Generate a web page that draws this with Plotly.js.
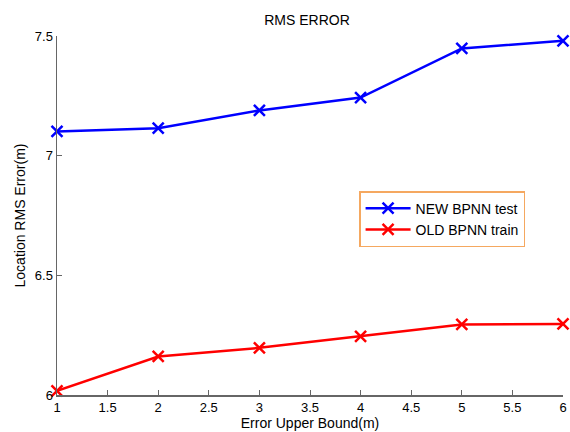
<!DOCTYPE html>
<html>
<head>
<meta charset="utf-8">
<script src="https://cdn.plot.ly/plotly-3.0.1.min.js"></script>
<style>html,body{margin:0;padding:0;background:#fff}#chart{width:570px;height:432px}</style>
</head>
<body>
<div id="chart"></div>
<script>
const errorBound = [1, 2, 3, 4, 5, 6];
const newBpnnTest = [7.101, 7.115, 7.189, 7.243, 7.448, 7.480];
const oldBpnnTrain = [6.017, 6.161, 6.197, 6.245, 6.295, 6.297];
const xTicks = [1, 1.5, 2, 2.5, 3, 3.5, 4, 4.5, 5, 5.5, 6];
const yTicks = [6, 6.5, 7, 7.5];

const font = 'Liberation Sans, Arial, sans-serif';

const traces = [
  {
    x: errorBound, y: newBpnnTest, name: 'NEW BPNN test', type: 'scatter', mode: 'lines+markers',
    line: {color: '#0000ff', width: 2.5},
    marker: {symbol: 'x-thin-open', size: 11, line: {color: '#0000ff', width: 2.5}},
    cliponaxis: false
  },
  {
    x: errorBound, y: oldBpnnTrain, name: 'OLD BPNN train', type: 'scatter', mode: 'lines+markers',
    line: {color: '#ff0000', width: 2.5},
    marker: {symbol: 'x-thin-open', size: 11, line: {color: '#ff0000', width: 2.5}},
    cliponaxis: false
  }
];

const layout = {
  width: 570, height: 432,
  margin: {l: 57, r: 7, t: 36, b: 37},
  paper_bgcolor: '#fff', plot_bgcolor: '#fff',
  font: {family: font, size: 13, color: '#000'},
  title: {text: 'RMS ERROR', x: 0.5386, xanchor: 'center', y: 0.953, yanchor: 'middle', font: {family: font, size: 14, color: '#000'}},
  xaxis: {
    range: [1, 6], tickvals: xTicks, ticktext: xTicks.map(String),
    showgrid: false, zeroline: false, showline: true, linecolor: '#666', linewidth: 1.5,
    ticks: 'inside', ticklen: 5, tickcolor: '#666', tickwidth: 1,
    tickfont: {family: font, size: 13, color: '#000'},
    title: {text: 'Error Upper Bound(m)', standoff: 2, font: {family: font, size: 14, color: '#000'}}
  },
  yaxis: {
    range: [6, 7.5], tickvals: yTicks, ticktext: yTicks.map(String),
    showgrid: false, zeroline: false, showline: true, linecolor: '#666', linewidth: 1.5,
    ticks: 'inside', ticklen: 5, tickcolor: '#666', tickwidth: 1,
    tickfont: {family: font, size: 13, color: '#000'},
    title: {text: 'Location RMS Error(m)', standoff: 6, font: {family: font, size: 14, color: '#000'}}
  },
  legend: {
    x: 0.597, y: 0.568, xanchor: 'left', yanchor: 'top',
    bgcolor: '#fff', bordercolor: '#f5a860', borderwidth: 1.5,
    font: {family: font, size: 14, color: '#000'},
    itemwidth: 45,
    tracegroupgap: 0
  },
  showlegend: true
};

Plotly.newPlot('chart', traces, layout, {displayModeBar: false, staticPlot: true});
</script>
</body>
</html>
